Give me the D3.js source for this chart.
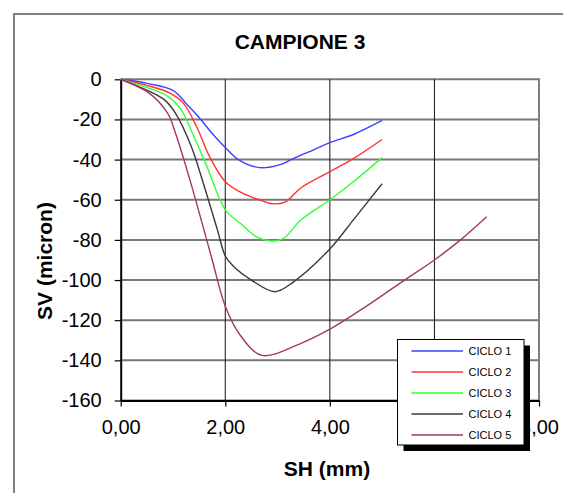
<!DOCTYPE html>
<html>
<head>
<meta charset="utf-8">
<script src="https://cdn.jsdelivr.net/npm/d3@7"></script>
<style>
    body { margin: 0; background: #fff; }
    svg { display: block; font-family: Arial, "Liberation Sans", sans-serif; }
</style>
</head>
<body>
<div class="chart"></div>
<script>
/*****************  Data *******************************************/
var seriesNames = ["CICLO 1", "CICLO 2", "CICLO 3", "CICLO 4", "CICLO 5"];
var seriesColors = ["#4040ff", "#ff3333", "#33ff33", "#3a3a3a", "#a3366e"];

var shCiclo1 = [0, 0.5, 1.0, 1.25, 1.5, 1.75, 2.0, 2.25, 2.65, 3.05, 3.3, 3.7, 4.0, 4.45, 5.0];
var svCiclo1 = [0, -2, -5.5, -12, -19, -27, -34, -40, -44, -42.5, -39.5, -35, -31.5, -27.5, -20.5];

var shCiclo2 = [0, 0.5, 0.95, 1.2, 1.45, 1.7, 2.0, 2.35, 2.65, 2.9, 3.15, 3.45, 4.0, 4.45, 5.0];
var svCiclo2 = [0, -3, -7, -12, -23.5, -38.5, -51, -57, -60, -62, -61, -54, -46, -39.5, -30];

var shCiclo3 = [0, 0.55, 0.9, 1.15, 1.4, 1.65, 2.0, 2.3, 2.6, 2.85, 3.1, 3.45, 4.0, 4.45, 5.0];
var svCiclo3 = [0, -4.5, -8.5, -15, -28.5, -43.5, -65, -72, -78.5, -80.5, -79.5, -70, -60, -51, -39];

var shCiclo4 = [0, 0.55, 0.85, 1.05, 1.35, 1.6, 1.85, 2.0, 2.15, 2.5, 2.95, 3.3, 4.0, 4.45, 5.0];
var svCiclo4 = [0, -6, -10.5, -17, -33.5, -53.5, -75, -88, -93, -100, -105.8, -101, -84.5, -70, -52];

var shCiclo5 = [0, 0.55, 0.9, 1.05, 1.3, 1.55, 1.75, 2.0, 2.3, 2.7, 3.45, 4.0, 4.7, 5.4, 6.0, 6.5, 7.0];
var svCiclo5 = [0, -7, -17, -27, -48, -71, -90, -113, -128, -137.5, -131.5, -124.5, -113, -100.5, -90, -80, -68.5];

var xTicks = [0, 2, 4, 6, 8];
var yTicks = [0, -20, -40, -60, -80, -100, -120, -140, -160];

var allSh = [shCiclo1, shCiclo2, shCiclo3, shCiclo4, shCiclo5];
var allSv = [svCiclo1, svCiclo2, svCiclo3, svCiclo4, svCiclo5];

function drawChart() {
    var width = 563;
    var height = 493;

    var svg = d3.select(".chart").append("svg")
        .attr("width", width)
        .attr("height", height);

    // chart area border (runs off the right and bottom edges)
    svg.append("rect")
        .attr("x", 14)
        .attr("y", 14)
        .attr("width", 700)
        .attr("height", 700)
        .style("fill", "none")
        .style("stroke", "#808080")
        .style("stroke-width", 2);

    var x = d3.scaleLinear().domain([0, 8]).range([120.7, 539]);
    var y = d3.scaleLinear().domain([-160, 0]).range([400.5, 79.3]);

    /*****************  Grid **********************/
    svg.append("g").selectAll("line")
        .data(yTicks)
        .enter()
        .append("line")
        .attr("x1", x(0))
        .attr("x2", x(8))
        .attr("y1", function (d) { return y(d); })
        .attr("y2", function (d) { return y(d); })
        .style("stroke", "#777")
        .style("stroke-width", 2);

    svg.append("g").selectAll("line")
        .data(xTicks.slice(1, 4))
        .enter()
        .append("line")
        .attr("x1", function (d) { return x(d); })
        .attr("x2", function (d) { return x(d); })
        .attr("y1", y(0))
        .attr("y2", y(-160))
        .style("stroke", "#111")
        .style("stroke-width", 1);

    svg.append("line")
        .attr("x1", x(8)).attr("x2", x(8))
        .attr("y1", y(0) - 1).attr("y2", y(-160))
        .style("stroke", "#808080")
        .style("stroke-width", 2);

    /*****************  Axes **********************/
    var itLocale = d3.formatLocale({decimal: ",", thousands: ".", grouping: [3], currency: ["", ""]});

    var xAxis = svg.append("g")
        .attr("transform", "translate(0," + y(-160) + ")")
        .call(d3.axisBottom(x)
            .tickValues(xTicks)
            .tickSize(6)
            .tickSizeOuter(0)
            .tickPadding(13)
            .tickFormat(itLocale.format(".2f")));

    var yAxis = svg.append("g")
        .attr("transform", "translate(" + x(0) + ",0)")
        .call(d3.axisLeft(y)
            .tickValues(yTicks)
            .tickSize(6)
            .tickSizeOuter(0)
            .tickPadding(13)
            .tickFormat(function (d) { return String(d); }));

    [xAxis, yAxis].forEach(function (a) {
        a.selectAll("path").style("stroke", "#000").style("stroke-width", 2);
        a.selectAll("line").style("stroke", "#000").style("stroke-width", 1.2);
        a.selectAll("text")
            .style("font-size", "20px")
            .style("font-family", "Arial, 'Liberation Sans', sans-serif")
            .style("fill", "#000");
    });

    /*****************  Curves **********************/
    var line = d3.line()
        .x(function (d) { return x(d[0]); })
        .y(function (d) { return y(d[1]); })
        .curve(d3.curveCatmullRom.alpha(0.5));

    seriesNames.forEach(function (name, i) {
        var pts = d3.zip(allSh[i], allSv[i]);
        svg.append("path")
            .datum(pts)
            .attr("d", line)
            .style("fill", "none")
            .style("stroke", seriesColors[i])
            .style("stroke-width", 1.4);
    });

    /*****************  Titles **********************/
    svg.append("text")
        .attr("x", 300)
        .attr("y", 48.5)
        .attr("text-anchor", "middle")
        .style("font-size", "21px")
        .style("font-weight", "bold")
        .text("CAMPIONE 3");

    svg.append("text")
        .attr("x", 327)
        .attr("y", 476)
        .attr("text-anchor", "middle")
        .style("font-size", "21px")
        .style("font-weight", "bold")
        .text("SH (mm)");

    svg.append("text")
        .attr("transform", "translate(52,261) rotate(-90)")
        .attr("text-anchor", "middle")
        .style("font-size", "21px")
        .style("font-weight", "bold")
        .text("SV (micron)");

    /*****************  Legend **********************/
    var legX = 397.5, legY = 339.5, legW = 126.5, legH = 105.5;

    svg.append("rect")
        .attr("x", legX + 6)
        .attr("y", legY + 6)
        .attr("width", legW)
        .attr("height", legH)
        .style("fill", "#000");

    svg.append("rect")
        .attr("x", legX)
        .attr("y", legY)
        .attr("width", legW)
        .attr("height", legH)
        .style("fill", "#fff")
        .style("stroke", "#000")
        .style("stroke-width", 1);

    var items = svg.append("g").selectAll("g")
        .data(seriesNames)
        .enter()
        .append("g")
        .attr("transform", function (d, i) {
            return "translate(0," + (351 + i * 21) + ")";
        });

    items.append("line")
        .attr("x1", 411.5)
        .attr("x2", 463)
        .attr("y1", 0)
        .attr("y2", 0)
        .style("stroke", function (d, i) { return seriesColors[i]; })
        .style("stroke-width", 1.5);

    items.append("text")
        .attr("x", 468.5)
        .attr("y", 4)
        .style("font-size", "11px")
        .style("fill", "#000")
        .text(function (d) { return d; });
}

drawChart();
</script>
</body>
</html>
